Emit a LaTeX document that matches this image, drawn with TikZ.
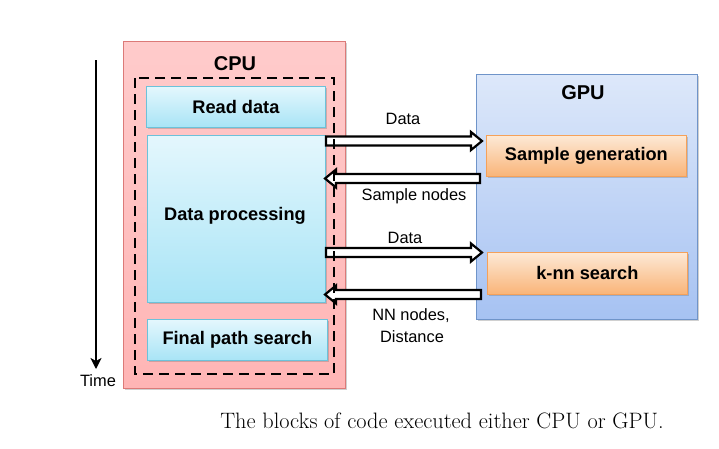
\documentclass[tikz,border=0pt]{standalone}
\usepackage{fontspec}
\setsansfont{Liberation Sans}
\usetikzlibrary{shadows,arrows.meta,calc}
\definecolor{cputop}{HTML}{FFCBCB}
\definecolor{cpubot}{HTML}{FFB5B5}
\definecolor{cpuline}{HTML}{DC7A78}
\definecolor{cyantop}{HTML}{E4F7FD}
\definecolor{cyanbot}{HTML}{A8E4F6}
\definecolor{cyanline}{HTML}{6CC2DA}
\definecolor{gputop}{HTML}{DDE8FA}
\definecolor{gpubot}{HTML}{A6C2F2}
\definecolor{gpuline}{HTML}{6F94C9}
\definecolor{ortop}{HTML}{FDE9D6}
\definecolor{orbot}{HTML}{F9B478}
\definecolor{orline}{HTML}{F5A15A}
\newcommand{\hollowarrow}[2]{%
  \draw[harrow] let \p1=(#1), \p2=(#2), \n1={sign(\x2-\x1)} in
  (\x1,\y1+4.5pt) -- (\x2-\n1*11pt,\y1+4.5pt) -- (\x2-\n1*11pt,\y1+9pt) -- (\x2,\y1)
  -- (\x2-\n1*11pt,\y1-9pt) -- (\x2-\n1*11pt,\y1-4.5pt) -- (\x1,\y1-4.5pt) -- cycle;}
\begin{document}
\begin{tikzpicture}[x=1pt,y=-1pt,
  shade/.style={drop shadow={shadow xshift=2pt,shadow yshift=-2pt,opacity=0.3,fill=black!60}},
  boxbase/.style={rectangle,anchor=north west,inner sep=0pt,line width=0.8pt,shade},
  cpubox/.style={boxbase,draw=cpuline,top color=cputop,bottom color=cpubot},
  gpubox/.style={boxbase,draw=gpuline,top color=gputop,bottom color=gpubot},
  cyanbox/.style={boxbase,draw=cyanline,top color=cyantop,bottom color=cyanbot},
  orbox/.style={boxbase,draw=orline,top color=ortop,bottom color=orbot},
  title/.style={font=\sffamily\bfseries\fontsize{20}{24}\selectfont,inner sep=0pt},
  blabel/.style={font=\sffamily\bfseries\fontsize{18.2}{22}\selectfont,inner sep=0pt},
  lbl/.style={font=\sffamily\fontsize{16.4}{20}\selectfont,inner sep=0pt,align=center},
  harrow/.style={draw=black,fill=white,line width=2.2pt,line join=miter},
  dashbox/.style={draw=black,line width=2.5pt,dash pattern=on 10pt off 6pt}]
\useasboundingbox (0,0) rectangle (719,448);
\fill[white] (0,0) rectangle (719,448);

% CPU and GPU containers
\node[cpubox,minimum width=222pt,minimum height=347pt] (cpu) at (123,41) {};
\node[gpubox,minimum width=221pt,minimum height=245pt] (gpu) at (476,74) {};
\node[title] (cputitle) at (235,64) {CPU};
\node[title] (gputitle) at (583,93) {GPU};

% CPU blocks
\node[cyanbox,minimum width=179pt,minimum height=41pt] (rd) at (146,86) {};
\node[blabel] at (rd.center) {Read data};
\node[cyanbox,minimum width=178pt,minimum height=167pt] (dp) at (147,135) {};
\node[blabel] (dplabel) at (235,216) {Data processing};
\node[cyanbox,minimum width=180pt,minimum height=41pt] (fp) at (147,319) {};
\node[blabel] at (fp.center) {Final path search};

% GPU blocks
\node[orbox,minimum width=200pt,minimum height=41pt] (sg) at (486,135) {};
\node[blabel] at (sg.center) {Sample generation};
\node[orbox,minimum width=200pt,minimum height=42pt] (knn) at (487,252) {};
\node[blabel] at (knn.center) {k-nn search};

% transfer arrows
\coordinate (a1s) at (326,141);
\coordinate (a1e) at (482,141);
\coordinate (a2s) at (480,178.5);
\coordinate (a2e) at (325,178.5);
\coordinate (a3s) at (326,252.5);
\coordinate (a3e) at (482,252.5);
\coordinate (a4s) at (481,294.5);
\coordinate (a4e) at (325,294.5);
\hollowarrow{a1s}{a1e}
\hollowarrow{a2s}{a2e}
\hollowarrow{a3s}{a3e}
\hollowarrow{a4s}{a4e}
\node[lbl] (l1) at (403,119) {Data};
\node[lbl] (l2) at (414,196) {Sample nodes};
\node[lbl] (l3) at (405,238) {Data};
\node[lbl] (l4a) at (411,316) {NN nodes,};
\node[lbl] (l4b) at (412,337) {Distance};

% dashed region
\draw[dashbox] (135,78) rectangle (334,374);

% time axis
\coordinate (t0) at (96,60);
\coordinate (t1) at (96,369);
\draw[line width=2.5pt,-{Stealth[length=11pt,width=11pt,inset=3pt]}] (t0) -- (t1);
\node[lbl] (time) at (98,381) {Time};

% caption
\node[inner sep=0pt,font=\fontsize{22.3}{26}\selectfont] (cap) at (442,421) {The blocks of code executed either CPU or GPU.};
\end{tikzpicture}
\end{document}
